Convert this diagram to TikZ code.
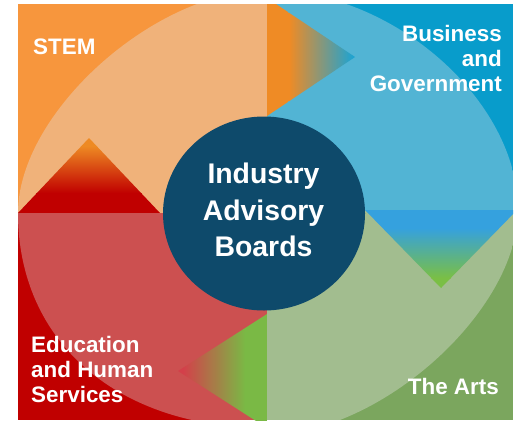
\documentclass[tikz,border=0pt]{standalone}
\usepackage{fontspec}
\setmainfont{Liberation Sans}
\definecolor{tldark}{HTML}{F7963D}
\definecolor{tllight}{HTML}{F0B27A}
\definecolor{trdark}{HTML}{089CCB}
\definecolor{trlight}{HTML}{52B4D4}
\definecolor{brdark}{HTML}{7BA65E}
\definecolor{brlight}{HTML}{A2BD8F}
\definecolor{bldark}{HTML}{C00000}
\definecolor{bllight}{HTML}{CC5050}
\definecolor{hub}{HTML}{0E4A6B}
\definecolor{tOr}{HTML}{EF8B25}
\definecolor{tBl}{HTML}{21A3CF}
\definecolor{rBl}{HTML}{35A1DE}
\definecolor{rGr}{HTML}{7ABF45}
\definecolor{bGr}{HTML}{7AB945}
\definecolor{bRd}{HTML}{D3404A}
\definecolor{lOr}{HTML}{EE8A23}
\definecolor{lRd}{HTML}{C00000}
\begin{document}
\begin{tikzpicture}[x=1bp,y=-1bp,
  lab/.style={text=white,font=\fontsize{22.5}{25}\selectfont\bfseries,inner sep=0pt},
  hubtxt/.style={text=white,font=\fontsize{28.5}{33}\selectfont\bfseries,inner sep=0pt,anchor=base}]
\useasboundingbox (0,0) rectangle (514,421);
\begin{scope}
\clip (18,4) rectangle (513,420);
% quadrants
\fill[tldark] (18,4) rectangle (267,213);
\fill[trdark] (267,4) rectangle (513,210);
\fill[brdark] (267,210) rectangle (513,420);
\fill[bldark] (18,213) rectangle (267,420);
% light ring body
\begin{scope}
\clip (18,213) .. controls (18,112.7) and (155,-10) .. (267,-10)
  .. controls (392.5,-10) and (518,100) .. (518,210)
  .. controls (518,311) and (380,435) .. (267,435)
  -- (267,428) .. controls (117.6,428) and (18,342) .. (18,213) -- cycle;
\fill[tllight] (18,4) rectangle (267,213);
\fill[trlight] (267,4) rectangle (513,210);
\fill[brlight] (267,210) rectangle (513,420);
\fill[bllight] (18,213) rectangle (267,420);
\end{scope}
% top arrowhead
\begin{scope}
\clip (267,-2) -- (355,57) -- (267,116) -- cycle;
\fill[tOr] (267,-2) rectangle (289,116);
\shade[left color=tOr,right color=tBl] (289,-2) rectangle (352,116);
\fill[tBl] (352,-2) rectangle (356,116);
\end{scope}
% right arrowhead
\begin{scope}
\clip (365,210) -- (517,210) -- (441,288) -- cycle;
\fill[rBl] (365,210) rectangle (517,228);
\shade[top color=rBl,bottom color=rGr] (365,228) rectangle (517,278);
\fill[rGr] (365,278) rectangle (517,289);
\end{scope}
% bottom arrowhead
\begin{scope}
\clip (267,314) -- (178,371) -- (267,428) -- cycle;
\fill[bGr] (245,314) rectangle (267,428);
\shade[left color=bRd,right color=bGr] (183,314) rectangle (245,428);
\fill[bRd] (177,314) rectangle (183,428);
\end{scope}
% left arrowhead
\begin{scope}
\clip (18,213) -- (160,213) -- (89,138) -- cycle;
\fill[lRd] (18,193) rectangle (160,213);
\shade[top color=lOr,bottom color=lRd] (18,146) rectangle (160,193);
\fill[lOr] (18,137) rectangle (160,146);
\end{scope}
\end{scope}
% hub
\fill[hub] (264,213.5) ellipse [x radius=101, y radius=97];
\node[hubtxt] (h1) at (263.5,183.3) {Industry};
\node[hubtxt] (h2) at (263.5,220) {Advisory};
\node[hubtxt] (h3) at (263.5,256.7) {Boards};
% labels
\node[lab,anchor=base west] (stem) at (33,54) {STEM};
\node[lab,anchor=base east] (bg1) at (502,41.7) {Business};
\node[lab,anchor=base east] (bg2) at (502,66.7) {and};
\node[lab,anchor=base east] (bg3) at (502,91.7) {Government};
\node[lab,anchor=base east] (arts) at (499,394.5) {The Arts};
\node[lab,anchor=base west] (ed1) at (31,352) {Education};
\node[lab,anchor=base west] (ed2) at (31,377) {and Human};
\node[lab,anchor=base west] (ed3) at (31,402) {Services};
\end{tikzpicture}
\end{document}
